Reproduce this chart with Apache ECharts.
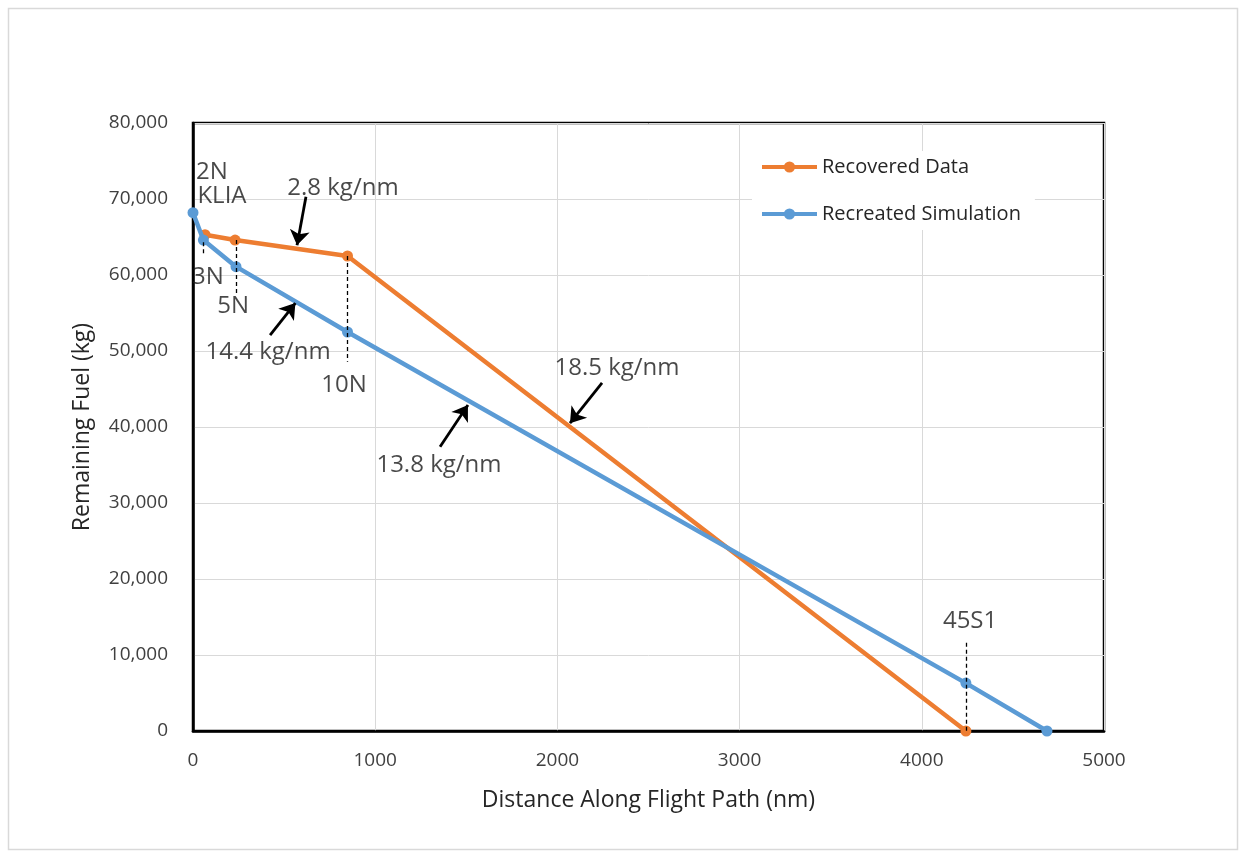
<!DOCTYPE html>
<html>
<head>
<meta charset="utf-8">
<script src="https://cdn.jsdelivr.net/npm/echarts@6/dist/echarts.min.js"></script>
<style>
html,body{margin:0;padding:0;background:#fff;}
#c{width:1243px;height:855px;}
</style>
</head>
<body>
<div id="c"></div>
<script>
// ---- data ----
const recoveredData = [[66, 65300], [231, 64600], [848, 62500], [4242, 0]];
const recreatedSim = [[0, 68200], [57, 64600], [236, 61100], [848, 52500], [4242, 6300], [4687, 0]];
const xTicks = [0, 1000, 2000, 3000, 4000, 5000];
const yTicks = [0, 10000, 20000, 30000, 40000, 50000, 60000, 70000, 80000];
// dashed waypoint guides: [x, yTop, yBottom]
const guides = [[57, 64300, 62600], [236, 64600, 57600], [848, 62500, 48600], [4242, 11600, 0]];
// annotation texts: [x, y, text]
const annotations = [
  [104, 73500, '2N'], [159, 70400, 'KLIA'], [823, 71450, '2.8 kg/nm'],
  [82, 59700, '3N'], [220, 55900, '5N'], [412, 49900, '14.4 kg/nm'],
  [829, 45500, '10N'], [2327, 47800, '18.5 kg/nm'], [1350, 35000, '13.8 kg/nm'],
  [4265, 14500, '45S1']
];
// arrows: [xTail, yTail, xHead, yHead]
const arrows = [
  [620, 70300, 571, 63900], [423, 52100, 562, 56300],
  [2245, 45800, 2069, 40500], [1356, 37400, 1509, 42900]
];

const FONT = 'Open Sans';
const chart = echarts.init(document.getElementById('c'), null, {renderer: 'canvas'});
chart.setOption({
  animation: false,
  backgroundColor: '#fff',
  graphic: [{type: 'rect', shape: {x: 8.5, y: 8.5, width: 1229, height: 841}, style: {fill: 'none', stroke: '#d9d9d9', lineWidth: 1.5}, z: -10}],
  grid: {left: 193, right: 139, top: 123, bottom: 124, show: true, borderColor: '#000', borderWidth: 2.5, backgroundColor: 'transparent'},
  legend: {
    data: ['Recovered Data', 'Recreated Simulation'],
    orient: 'vertical', left: 752, top: 151, itemWidth: 55, itemHeight: 14, itemGap: 27,
    backgroundColor: '#fff', padding: [6, 14, 6, 8],
    lineStyle: {width: 4},
    textStyle: {fontFamily: FONT, fontSize: 20, color: '#262626'}
  },
  xAxis: {
    type: 'value', min: 0, max: 5000, interval: 1000,
    name: 'Distance Along Flight Path (nm)', nameLocation: 'middle', nameGap: 58,
    nameTextStyle: {fontFamily: FONT, fontSize: 23, color: '#262626'},
    axisLine: {lineStyle: {color: '#000', width: 2.5}}, axisTick: {show: false},
    axisLabel: {fontFamily: FONT, fontSize: 19, color: '#404040', margin: 20, formatter: v => xTicks.includes(v) ? String(v) : ''},
    splitLine: {lineStyle: {color: '#d9d9d9', width: 1}}
  },
  yAxis: {
    type: 'value', min: 0, max: 80000, interval: 10000,
    name: 'Remaining Fuel (kg)', nameLocation: 'middle', nameGap: 99,
    nameTextStyle: {fontFamily: FONT, fontSize: 23, color: '#262626'},
    axisLine: {show: true, lineStyle: {color: '#000', width: 2.5}}, axisTick: {show: false},
    axisLabel: {fontFamily: FONT, fontSize: 19, color: '#404040', margin: 25, formatter: v => yTicks.includes(v) ? v.toLocaleString('en-US') : ''},
    splitLine: {lineStyle: {color: '#d9d9d9', width: 1}}
  },
  series: [
    {
      name: 'Recovered Data', type: 'line', data: recoveredData, color: '#ED7D31',
      symbol: 'circle', symbolSize: 11, lineStyle: {width: 4.5, color: '#ED7D31'}, itemStyle: {color: '#ED7D31'}, z: 3
    },
    {
      name: 'Recreated Simulation', type: 'line', data: recreatedSim, color: '#5B9BD5',
      symbol: 'circle', symbolSize: 11, lineStyle: {width: 4.5, color: '#5B9BD5'}, itemStyle: {color: '#5B9BD5'}, z: 4
    },
    {
      type: 'lines', coordinateSystem: 'cartesian2d', z: 5,
      data: guides.map(g => ({coords: [[g[0], g[1]], [g[0], g[2]]]})),
      lineStyle: {color: '#000', width: 1.3, type: [4, 3], opacity: 1}, symbol: 'none'
    },
    {
      type: 'lines', coordinateSystem: 'cartesian2d', z: 6,
      data: arrows.map(a => ({coords: [[a[0], a[1]], [a[2], a[3]]]})),
      lineStyle: {color: '#000', width: 2.8, opacity: 1}, symbol: ['none', 'arrow'], symbolSize: 15
    },
    {
      type: 'scatter', symbolSize: 0, z: 7, silent: true,
      data: annotations.map(a => ({value: [a[0], a[1]], name: a[2]})),
      label: {show: true, position: 'inside', formatter: p => p.name, fontFamily: FONT, fontSize: 24, color: '#1a1a1a'}
    }
  ]
});
</script>
</body>
</html>
